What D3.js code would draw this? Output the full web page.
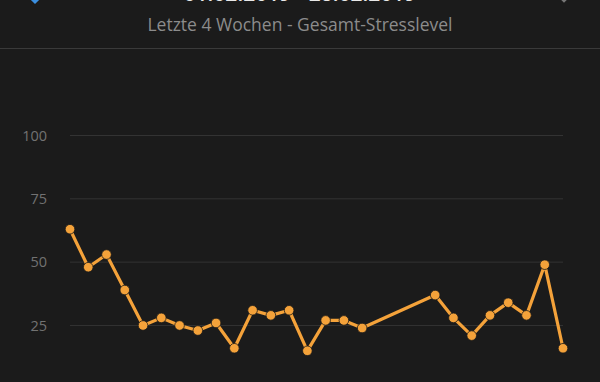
<!DOCTYPE html>
<html>
<head>
<meta charset="utf-8">
<script src="https://cdn.jsdelivr.net/npm/d3@7"></script>
<style>
  html, body { margin: 0; padding: 0; background: #1b1b1b; }
  svg { display: block; font-family: "Open Sans", "Noto Sans", sans-serif; }
</style>
</head>
<body>
<svg id="chart" width="600" height="382"></svg>
<script>
// Day offsets within the 4 weeks (days 17-19 have no reading)
var days = [0, 1, 2, 3, 4, 5, 6, 7, 8, 9, 10, 11, 12, 13, 14, 15, 16,
            20, 21, 22, 23, 24, 25, 26, 27];
// Overall stress level per day
var stress = [63, 48, 53, 39, 25, 28, 25, 23, 26, 16, 31, 29, 31, 15, 27, 27, 24,
              37, 28, 21, 29, 34, 29, 49, 16];
var yTicks = [25, 50, 75, 100];

var svg = d3.select('#chart');
var width = 600, height = 382;

// Header: date range (scrolled off the top), chevrons, title, separator
svg.append('text')
    .attr('x', 300)
    .attr('y', 0.5)
    .attr('text-anchor', 'middle')
    .attr('fill', '#e8e8e8')
    .attr('font-size', 21)
    .attr('font-weight', 600)
    .text('01.02.2019 - 28.02.2019');

svg.append('path')
    .attr('d', 'M29,-4 L35,2 L41,-4')
    .attr('fill', 'none')
    .attr('stroke', '#3b8fe0')
    .attr('stroke-width', 3);

svg.append('path')
    .attr('d', 'M559,-4 L564,1 L569,-4')
    .attr('fill', 'none')
    .attr('stroke', '#777')
    .attr('stroke-width', 2.5);

svg.append('text')
    .attr('x', 300)
    .attr('y', 31)
    .attr('text-anchor', 'middle')
    .attr('fill', '#8c8c8c')
    .attr('font-size', 17.5)
    .text('Letzte 4 Wochen - Gesamt-Stresslevel');

svg.append('line')
    .attr('x1', 0).attr('x2', width)
    .attr('y1', 48.5).attr('y2', 48.5)
    .attr('stroke', '#3a3a3a')
    .attr('stroke-width', 1);

// Scales
var x = d3.scaleLinear().domain([0, 27]).range([70, 563]);
var y = d3.scaleLinear().domain([0, 100]).range([388.8, 135.5]);

// Grid lines
svg.append('g')
    .selectAll('line')
    .data(yTicks).enter()
    .append('line')
    .attr('x1', 70).attr('x2', 563)
    .attr('y1', function (d) { return y(d); })
    .attr('y2', function (d) { return y(d); })
    .attr('stroke', '#333333')
    .attr('stroke-width', 1);

// Y axis labels
var yAxis = d3.axisLeft(y).tickValues(yTicks).tickSize(0).tickPadding(0);
svg.append('g')
    .attr('transform', 'translate(47,0)')
    .call(yAxis)
    .call(function (g) { g.select('.domain').remove(); })
    .selectAll('text')
    .attr('fill', '#727272')
    .attr('font-size', 14.5)
    .attr('font-family', '"Open Sans", "Noto Sans", sans-serif');

// Line
var points = days.map(function (d, i) { return { day: d, value: stress[i] }; });
var line = d3.line()
    .x(function (d) { return x(d.day); })
    .y(function (d) { return y(d.value); });

svg.append('path')
    .datum(points)
    .attr('d', line)
    .attr('fill', 'none')
    .attr('stroke', '#f4a23a')
    .attr('stroke-width', 3.2)
    .attr('stroke-linejoin', 'round');

// Dots
svg.append('g')
    .selectAll('circle')
    .data(points).enter()
    .append('circle')
    .attr('cx', function (d) { return x(d.day); })
    .attr('cy', function (d) { return y(d.value); })
    .attr('r', 4.8)
    .attr('fill', '#f4a23a')
    .attr('stroke', '#1b1b1b')
    .attr('stroke-width', 0.8);
</script>
</body>
</html>
